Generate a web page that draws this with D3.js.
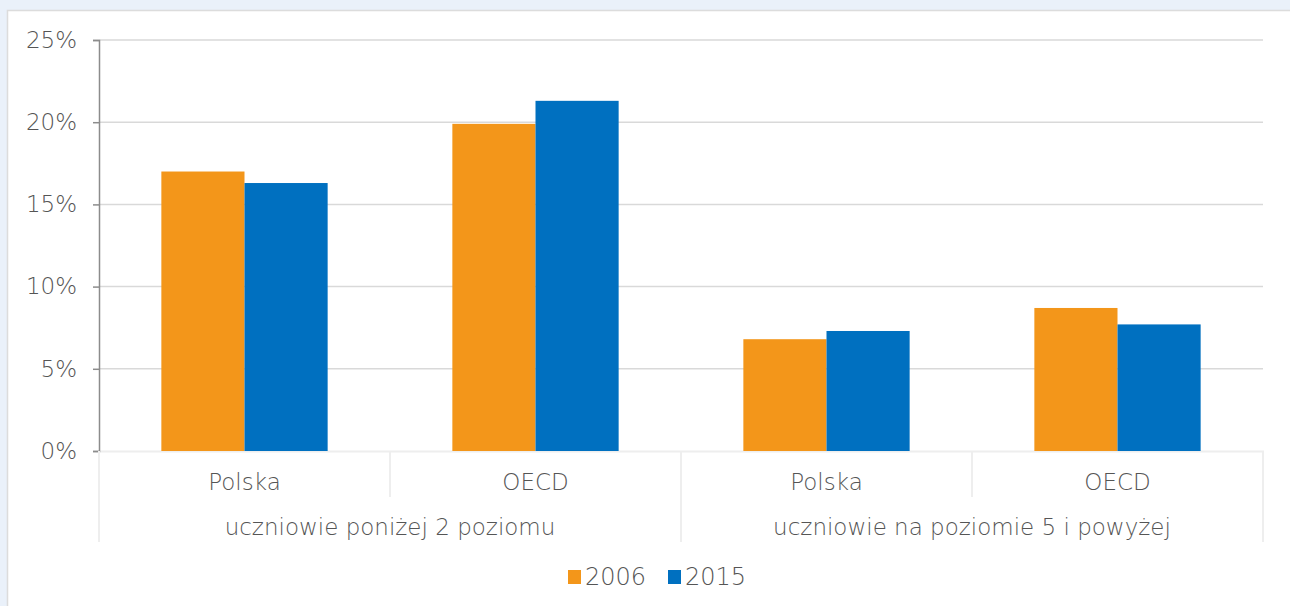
<!DOCTYPE html>
<html>
<head>
<meta charset="utf-8">
<script src="https://cdn.jsdelivr.net/npm/d3@7"></script>
<style>
  html, body { margin: 0; padding: 0; background: #eaf1fa; }
  svg { display: block; }
  text { font-family: "DejaVu Sans", "Liberation Sans", sans-serif; font-weight: 200; fill: #555; }
</style>
</head>
<body>
<svg id="chart" width="1290" height="606"></svg>
<script>
const groups = ["uczniowie poniżej 2 poziomu", "uczniowie na poziomie 5 i powyżej"];
const categories = ["Polska", "OECD", "Polska", "OECD"];
const categoryGroup = [0, 0, 1, 1];
const seriesNames = ["2006", "2015"];
const values2006 = [17.0, 19.9, 6.8, 8.7];
const values2015 = [16.3, 21.3, 7.3, 7.7];
const yTicks = [0, 5, 10, 15, 20, 25];
const colors = ["#F3961A", "#0070C0"];

const svg = d3.select("#chart");
svg.append("rect").attr("x", 7.5).attr("y", 10.5).attr("width", 1290).attr("height", 606)
  .attr("fill", "#fff").attr("stroke", "#dcdcdc").attr("stroke-width", 1.5);

const mLeft = 99, mRight = 1263, mTop = 40, mBottom = 451;
const x = d3.scaleBand().domain(d3.range(categories.length)).range([mLeft, mRight]).paddingInner(0).paddingOuter(0);
const inner = d3.scaleBand().domain(seriesNames).range([0, x.bandwidth()]).paddingInner(0).paddingOuter(0.75);
const y = d3.scaleLinear().domain([0, 25]).range([mBottom, mTop]);

// gridlines
svg.append("g").selectAll("line").data(yTicks.filter(d => d > 0)).join("line")
  .attr("x1", mLeft).attr("x2", mRight).attr("y1", d => y(d)).attr("y2", d => y(d))
  .attr("stroke", "#d9d9d9").attr("stroke-width", 1.5);

// baseline
svg.append("line").attr("x1", mLeft).attr("x2", mRight + 1).attr("y1", mBottom + 0.5).attr("y2", mBottom + 0.5)
  .attr("stroke", "#eeeeee").attr("stroke-width", 2);

// bars
const seriesData = [values2006, values2015];
seriesData.forEach((vals, si) => {
  svg.append("g").selectAll("rect").data(vals).join("rect")
    .attr("x", (d, i) => x(i) + inner(seriesNames[si]))
    .attr("width", inner.bandwidth())
    .attr("y", d => y(d))
    .attr("height", d => y(0) - y(d))
    .attr("fill", colors[si]);
});

// y axis
const yAxis = d3.axisLeft(y).tickValues(yTicks).tickFormat(d => d + "%").tickSize(6).tickPadding(16);
const ga = svg.append("g").attr("transform", `translate(${mLeft},0)`).call(yAxis);
ga.select(".domain").attr("stroke", "#8c8c8c").attr("stroke-width", 1.5);
ga.selectAll(".tick line").attr("stroke", "#8c8c8c").attr("stroke-width", 1.5);
ga.selectAll(".tick text").style("font-size", "23px").style("font-family", "DejaVu Sans").style("font-weight", 200).attr("fill", "#555");

// category dividers
const divs = d3.range(categories.length + 1).map(i => ({
  x: i < categories.length ? x(i) : mRight,
  outer: i === 0 || i === categories.length || categoryGroup[i] !== categoryGroup[i - 1]
}));
svg.append("g").selectAll("line").data(divs).join("line")
  .attr("x1", d => d.x).attr("x2", d => d.x)
  .attr("y1", mBottom).attr("y2", d => d.outer ? 542 : 497)
  .attr("stroke", "#eeeeee").attr("stroke-width", 2);

// category labels
svg.append("g").selectAll("text").data(categories).join("text")
  .attr("x", (d, i) => x(i) + x.bandwidth() / 2).attr("y", 490)
  .attr("text-anchor", "middle").style("font-size", "23px").text(d => d);

// group labels
svg.append("g").selectAll("text").data(groups).join("text")
  .attr("x", (d, gi) => {
    const idx = categoryGroup.map((g, i) => g === gi ? i : -1).filter(i => i >= 0);
    return (x(idx[0]) + x(idx[idx.length - 1]) + x.bandwidth()) / 2;
  })
  .attr("y", 535).attr("text-anchor", "middle").style("font-size", "23px").text(d => d);

// legend
const legend = svg.append("g");
const legX = [568, 668];
seriesNames.forEach((s, i) => {
  legend.append("rect").attr("x", legX[i]).attr("y", 570).attr("width", 13).attr("height", 14).attr("fill", colors[i]);
  legend.append("text").attr("x", legX[i] + 17).attr("y", 585).style("font-size", "24px").text(s);
});
</script>
</body>
</html>
